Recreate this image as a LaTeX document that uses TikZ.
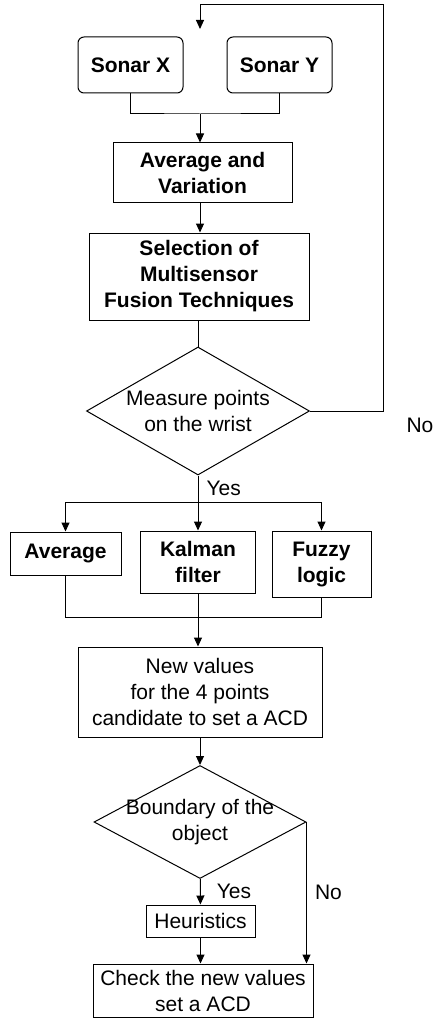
\documentclass[tikz,border=0pt]{standalone}
\usepackage{fontspec}
\setmainfont{Liberation Sans}
\usetikzlibrary{shapes.geometric, arrows.meta, positioning}

\begin{document}
\begin{tikzpicture}[
  x=1pt, y=-1pt,
  every node/.style={font=\fontsize{21}{26}\selectfont},
  box/.style={draw, line width=1pt, align=center, inner sep=0pt},
  bbox/.style={box, font=\fontsize{21}{26}\selectfont\bfseries},
  sonar/.style={bbox, rounded corners=6pt, minimum width=105pt, minimum height=56pt},
  decision/.style={draw, line width=1pt, diamond, align=center, inner sep=-3pt},
  lbl/.style={inner sep=2pt},
  arrow/.style={-{Triangle[length=9pt, width=8pt]}, line width=1pt},
  line/.style={line width=1pt},
]
\useasboundingbox (0,0) rectangle (435,1019);

\node[sonar] (sonarx) at (130.5,65) {Sonar X};
\node[sonar] (sonary) at (279.5,65) {Sonar Y};
\node[bbox, minimum width=179pt, minimum height=59pt] (avgvar) at (202.5,172.5) {Average and\\Variation};
\node[bbox, minimum width=220pt, minimum height=87pt] (select) at (199,276.5) {Selection of\\Multisensor\\Fusion Techniques};
\node[decision, aspect=1.74, minimum width=223pt, minimum height=128pt] (measure) at (198,411) {Measure points\\on the wrist};
\node[bbox, minimum width=111pt, minimum height=43pt] (avg) at (65.5,553.5) {Average};
\node[bbox, minimum width=115pt, minimum height=62pt] (kalman) at (198,562) {Kalman\\filter};
\node[bbox, minimum width=99pt, minimum height=66pt] (fuzzy) at (321.5,564) {Fuzzy\\logic};
\node[box, minimum width=244pt, minimum height=90pt] (newval) at (200,692) {New values\\for the 4 points\\candidate to set a ACD};
\node[decision, aspect=1.88, minimum width=212pt, minimum height=113pt, inner sep=-6pt] (bound) at (200,822) {Boundary of the\\object};
\node[box, minimum width=109pt, minimum height=32pt] (heur) at (200.5,921) {Heuristics};
\node[box, minimum width=220pt, minimum height=53pt] (check) at (203,990.5) {Check the new values\\set a ACD};
\node[lbl] (no1) at (420,425) {No};

\coordinate (looptop) at (200,5);
\coordinate (loopin) at (200,29);
\coordinate (loopc) at (383,411);
\coordinate (join1) at (200,114);
\coordinate (split) at (198,502);
\coordinate (join2) at (198,617);

% back to the sonars
\draw[arrow] (measure.east) -- (loopc) |- (looptop) -- (loopin);

\draw[line] (sonarx.south) |- (join1) -| (sonary.south);
\draw[arrow] (join1) -- (join1 |- avgvar.north);
\draw[arrow] (join1 |- avgvar.south) -- (join1 |- select.north);
\draw[line] (measure.north |- select.south) -- (measure.north);

\draw[line] (measure.south) -- (split) node[lbl, midway, right, xshift=6pt] {Yes};
\draw[arrow] (split) -| (avg);
\draw[arrow] (split) -- (kalman);
\draw[arrow] (split) -| (fuzzy);

\draw[line] (avg) |- (join2);
\draw[line] (fuzzy) |- (join2);
\draw[line] (kalman) -- (join2);
\draw[arrow] (join2) -- (join2 |- newval.north);

\draw[arrow] (newval) -- (bound);
\draw[arrow] (bound) -- (heur) node[lbl, midway, right, xshift=14pt] {Yes};
\draw[arrow] (heur.south) -- (heur.south |- check.north);
\draw[arrow] (bound.east) -- (bound.east |- check.north) node[lbl, midway, right, xshift=6pt] {No};

\end{tikzpicture}
\end{document}
